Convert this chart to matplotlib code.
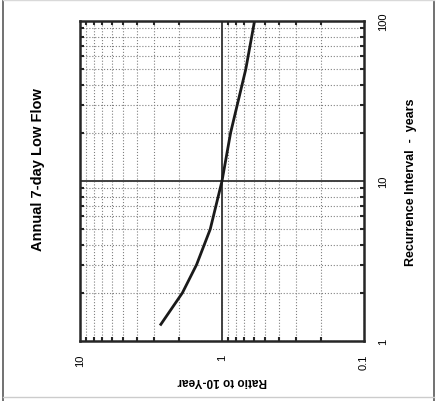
import numpy as np
import matplotlib.pyplot as plt
from matplotlib.lines import Line2D
from matplotlib.ticker import FixedLocator, NullFormatter

plt.rcParams['font.family'] = ['Liberation Sans', 'DejaVu Sans']

# data (chart is printed rotated 90 deg: ratio runs across, interval runs up)
recurrence = [1.25, 2, 3, 5, 10, 20, 50, 100]
ratio = [2.73, 1.90, 1.51, 1.21, 1.00, 0.87, 0.68, 0.59]
ratio_ticks = [10, 1, 0.1]
ratio_labels = ['10', '1', '0.1']
interval_ticks = [1, 10, 100]
interval_labels = ['1', '10', '100']
ref_ratio = 1
ref_interval = 10

W, H = 441, 402
fig = plt.figure(figsize=(W / 100, H / 100), dpi=100)
ax = fig.add_axes([80 / W, 1 - 342 / H, 284 / W, 320 / H])

ax.set_xscale('log')
ax.set_yscale('log')
ax.set_xlim(10, 0.1)
ax.set_ylim(1, 100)

# log paper grid
minor_r = [m * d for d in (0.1, 1) for m in range(2, 10)]
minor_t = [m * d for d in (1, 10) for m in range(2, 10)]
ax.xaxis.set_major_locator(FixedLocator(ratio_ticks))
ax.xaxis.set_minor_locator(FixedLocator(minor_r))
ax.yaxis.set_major_locator(FixedLocator(interval_ticks))
ax.yaxis.set_minor_locator(FixedLocator(minor_t))
ax.xaxis.set_minor_formatter(NullFormatter())
ax.yaxis.set_minor_formatter(NullFormatter())
ax.set_xticklabels(ratio_labels, rotation=90, fontsize=8)
ax.set_yticklabels(interval_labels, rotation=90, fontsize=8, va='center')

ax.grid(which='both', linestyle=':', color='0.5', linewidth=0.8)
ax.axvline(ref_ratio, color='0.25', linewidth=1.4)
ax.axhline(ref_interval, color='0.25', linewidth=1.4)

ax.yaxis.tick_right()
ax.tick_params(which='both', direction='in', top=True, bottom=True,
               left=True, right=True, color='0.15')
ax.tick_params(which='minor', length=3, width=1.5)
ax.tick_params(which='major', length=0, pad=9)
ax.tick_params(axis='y', which='major', pad=10)

for s in ax.spines.values():
    s.set_linewidth(1.8)
    s.set_color('0.15')

ax.plot(ratio, recurrence, color='0.1', linewidth=2.0, solid_capstyle='butt')

ax.set_xlabel('Ratio to 10-Year', rotation=180, fontsize=8.5,
              fontweight='bold', labelpad=4)
ax.yaxis.set_label_position('right')
ax.set_ylabel('Recurrence Interval  -  years', rotation=90, fontsize=9,
              fontweight='bold', labelpad=12)
fig.text(38 / W, 1 - 170 / H, 'Annual 7-day Low Flow', rotation=90,
         fontsize=10.5, fontweight='bold', ha='center', va='center')

# scanned page border
fig.add_artist(Line2D([3 / W, 3 / W], [0, 1 - 1 / H], transform=fig.transFigure,
                      color='0.4', linewidth=1.3))
fig.add_artist(Line2D([434 / W, 434 / W], [0, 1 - 1 / H], transform=fig.transFigure,
                      color='0.4', linewidth=1.3))
fig.add_artist(Line2D([3 / W, 434 / W], [1 - 398 / H, 1 - 398 / H],
                      transform=fig.transFigure, color='0.8', linewidth=1.0))
fig.add_artist(Line2D([3 / W, 434 / W], [1 - 1 / H, 1 - 1 / H],
                      transform=fig.transFigure, color='0.85', linewidth=1.0))

fig.savefig('out.png', dpi=100)
